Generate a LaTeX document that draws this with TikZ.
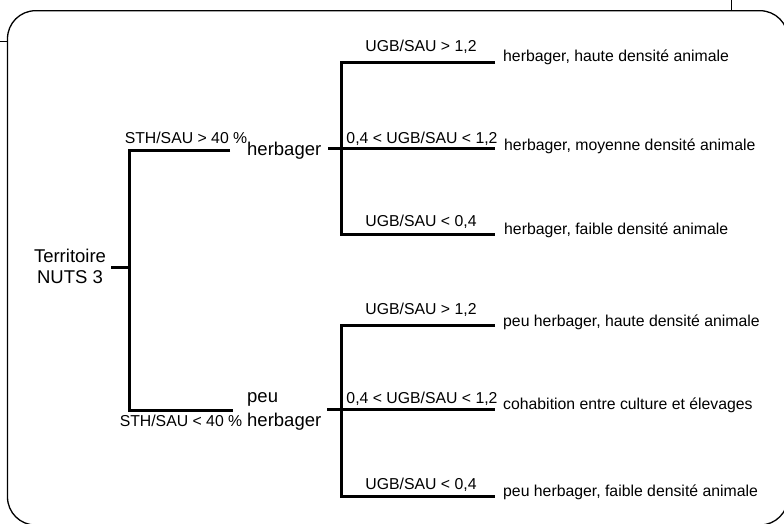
\documentclass[tikz,border=0pt]{standalone}
\usepackage{fontspec}
\setmainfont{Liberation Sans}
\usetikzlibrary{calc}
\tikzset{
  tree/.style={line width=3pt},
  frame/.style={line width=1.3pt},
  cond/.style={font=\fontsize{15.8}{19}\selectfont, inner sep=0pt, anchor=base},
  leaf/.style={font=\fontsize{15.8}{19}\selectfont, inner sep=0pt, anchor=base west},
  cls/.style={font=\fontsize{18.5}{21}\selectfont, inner sep=0pt},
}
\begin{document}
\begin{tikzpicture}[x=1pt,y=-1pt]
\useasboundingbox (0,0) rectangle (784,523);
\clip (0,0) rectangle (784,523);
% frame
\draw[frame, rounded corners=28pt] (7.5,10.7) rectangle (788,525);
\draw[line width=0.8pt] (0,41.7) -- (7.5,41.7);
\draw[line width=0.8pt] (731.7,0) -- (731.7,10.7);

% root
\node[cls, align=center] (root) at (70,266) {Territoire\\NUTS 3};
\coordinate (j0) at (129.5,267);
\coordinate (t0) at (129.5,150);
\coordinate (b0) at (129.5,410.7);
\node[cls, anchor=base west] (h) at (247,155) {herbager};
\node[cls, font=\fontsize{18.5}{24.5}\selectfont, anchor=base west, align=left] (ph) at (247,426.7) {peu\\herbager};
\draw[tree] ($(root.east |- j0)+(5,0)$) -- (j0);
\draw[tree] ($(h.west |- t0)+(-17,0)$) -- (t0) -- (b0) -- ($(ph.west |- b0)+(-14,0)$);
\node[cond] (s1) at (186,143.3) {STH/SAU > 40 \%};
\node[cond] (s2) at (181,426.7) {STH/SAU < 40 \%};

% upper subtree
\coordinate (j1) at (341,148.8);
\coordinate (u1) at (341,62.3);
\coordinate (d1) at (341,234);
\node[leaf] (l11) at (503,61.7) {herbager, haute densité animale};
\node[leaf] (l12) at (504,150) {herbager, moyenne densité animale};
\node[leaf] (l13) at (504,234) {herbager, faible densité animale};
\draw[tree] ($(h.east |- j1)+(7,0)$) -- (j1);
\draw[tree] ($(l11.west |- u1)+(-8,0)$) -- (u1) -- (d1) -- ($(l13.west |- d1)+(-9,0)$);
\draw[tree] (j1) -- ($(l12.west |- j1)+(-9,0)$);
\node[cond] (c11) at (421,51.7) {UGB/SAU > 1,2};
\node[cond] (c12) at (422,143.3) {0,4 < UGB/SAU < 1,2};
\node[cond] (c13) at (421,226.7) {UGB/SAU < 0,4};

% lower subtree
\coordinate (j2) at (341,409);
\coordinate (u2) at (341,325);
\coordinate (d2) at (341,496.7);
\node[leaf] (l21) at (503,326.7) {peu herbager, haute densité animale};
\node[leaf] (l22) at (503,409.3) {cohabition entre culture et élevages};
\node[leaf] (l23) at (503,496.7) {peu herbager, faible densité animale};
\draw[tree] ($(ph.east |- j2)+(6,0)$) -- (j2);
\draw[tree] ($(l21.west |- u2)+(-8,0)$) -- (u2) -- (d2) -- ($(l23.west |- d2)+(-8,0)$);
\draw[tree] (j2) -- ($(l22.west |- j2)+(-8,0)$);
\node[cond] (c21) at (421,314) {UGB/SAU > 1,2};
\node[cond] (c22) at (422,403.3) {0,4 < UGB/SAU < 1,2};
\node[cond] (c23) at (421,489.3) {UGB/SAU < 0,4};
\end{tikzpicture}
\end{document}
